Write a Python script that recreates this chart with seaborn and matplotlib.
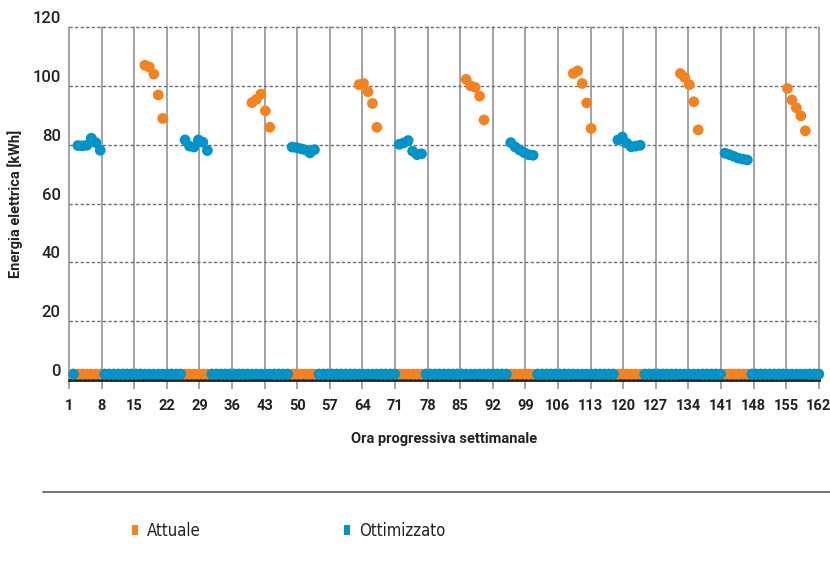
import numpy as np
import pandas as pd
import matplotlib
matplotlib.use("Agg")
import matplotlib.pyplot as plt
from matplotlib.transforms import ScaledTranslation
from matplotlib.lines import Line2D
from matplotlib.patches import Patch
import seaborn as sns

# Weekly hourly energy use, 168 hours
hours = np.arange(1, 169)
standby_kwh = 2.0

# Operating blocks: first hour of each block and its hourly values [kWh]
attuale_starts = [17, 41, 65, 89, 113, 137, 161]
attuale_blocks = [
    [107.0, 106.4, 104.0, 96.9, 88.9],
    [94.3, 95.4, 97.2, 91.5, 85.9],
    [100.4, 100.8, 98.0, 94.0, 85.9],
    [102.2, 100.0, 99.5, 96.5, 88.4],
    [104.2, 105.1, 100.8, 94.2, 85.5],
    [104.2, 102.8, 100.4, 94.6, 85.0],
    [99.1, 95.2, 92.5, 89.8, 84.7],
]

ottimizzato_starts = [2, 26, 50, 74, 99, 123, 147]
ottimizzato_blocks = [
    [79.7, 79.6, 79.8, 82.2, 80.7, 78.1],
    [81.6, 79.5, 79.2, 81.6, 80.8, 78.0],
    [79.2, 79.0, 78.6, 78.2, 77.2, 78.3],
    [80.1, 80.6, 81.4, 77.8, 76.6, 76.9],
    [80.7, 79.2, 78.2, 77.3, 76.6, 76.4],
    [81.6, 82.6, 80.5, 79.3, 79.5, 79.8],
    [77.1, 76.6, 76.0, 75.4, 75.1, 74.8],
]

x_tick_labels = ["1", "8", "15", "22", "29", "36", "43", "50", "57", "64", "71", "78",
                 "85", "92", "99", "106", "113", "120", "127", "134", "141", "148", "155", "162"]
y_ticks = [0, 20, 40, 60, 80, 100, 120]

series_names = ["Attuale", "Ottimizzato"]
palette = {"Attuale": "#F5821F", "Ottimizzato": "#0094C9"}


def weekly_profile(starts, blocks):
    values = np.full(hours.size, standby_kwh)
    for start, block in zip(starts, blocks):
        values[start - 1:start - 1 + len(block)] = block
    return values


df = pd.concat([
    pd.DataFrame({"ora": hours, "kwh": weekly_profile(attuale_starts, attuale_blocks),
                  "serie": series_names[0]}),
    pd.DataFrame({"ora": hours, "kwh": weekly_profile(ottimizzato_starts, ottimizzato_blocks),
                  "serie": series_names[1]}),
], ignore_index=True)

sns.set_theme(style="white")
plt.rcParams["font.family"] = ["Roboto", "DejaVu Sans"]
plt.rcParams["lines.scale_dashes"] = False

W, H = 830, 569
fig = plt.figure(figsize=(W / 100, H / 100), dpi=100)
left, right, top, bottom = 69, 818.7, 27, 380
ax = fig.add_axes([left / W, 1 - bottom / H, (right - left) / W, (bottom - top) / H])

sns.scatterplot(data=df, x="ora", y="kwh", hue="serie", palette=palette,
                s=60, linewidth=0, alpha=1, legend=False, ax=ax,
                clip_on=False, zorder=3)

ax.set_xlim(0, 168)
ax.set_ylim(0, 120)
ax.set_xticks(np.linspace(0, 168, len(x_tick_labels)))
ax.set_xticklabels(x_tick_labels)
ax.set_yticks(y_ticks)
ax.set_yticklabels([str(v) for v in y_ticks])

ax.set_axisbelow(True)
ax.xaxis.grid(True, color="#8a8a8a", lw=1.1, ls="-")
ax.yaxis.grid(True, color="#707070", lw=1.0, ls=(0, (2.4, 1.6)))
for gl in ax.get_xgridlines() + ax.get_ygridlines():
    gl.set_clip_on(False)

for side in ["top", "left", "right"]:
    ax.spines[side].set_visible(False)
ax.spines["bottom"].set_color("#222222")
ax.spines["bottom"].set_linewidth(2.0)
ax.spines["bottom"].set_zorder(2.5)

ax.tick_params(axis="x", direction="out", length=6.5, width=1.1, color="#8a8a8a",
               pad=7, labelsize=10.5, labelcolor="#222222", bottom=True)
ax.tick_params(axis="y", length=0, pad=6, labelsize=12, labelcolor="#222222")
for lbl in ax.get_xticklabels():
    lbl.set_fontweight("bold")
lift = ScaledTranslation(0, 0.10, fig.dpi_scale_trans)
for lbl in ax.get_yticklabels():
    lbl.set_fontweight("medium")
    lbl.set_transform(lbl.get_transform() + lift)

ax.set_xlabel("Ora progressiva settimanale", fontsize=10.5, fontweight="bold", color="#222222")
ax.xaxis.set_label_coords(0.5, -0.148)
ax.set_ylabel("Energia elettrica [kWh]", fontsize=10.5, fontweight="bold", color="#222222")
ax.yaxis.set_label_coords(-0.072, 0.5)
ax.yaxis.label.set_verticalalignment("center")

# separator above the legend
fig.add_artist(Line2D([43 / W, 1.0], [1 - 491.7 / H] * 2, transform=fig.transFigure,
                      color="#6b6b6b", lw=1.3))

handles = [Patch(facecolor=palette[n], edgecolor="none") for n in series_names]
fs = 12
fig.legend(handles, series_names, ncol=2, loc="center left",
           bbox_to_anchor=(132 / W, 1 - 531 / H), frameon=False,
           prop={"family": "DejaVu Sans", "stretch": "condensed", "size": fs},
           labelcolor="#222222",
           handlelength=0.36, handleheight=0.58, handletextpad=0.55,
           columnspacing=8.6, borderpad=0, borderaxespad=0)

fig.savefig("out.png", dpi=100)
